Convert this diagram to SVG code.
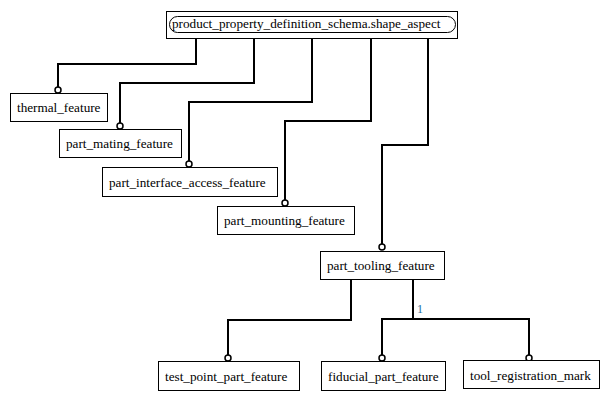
<svg xmlns="http://www.w3.org/2000/svg" width="608" height="400" viewBox="0 0 608 400">
<style>
.box{fill:#fff;stroke:#000;stroke-width:1}
.t{font-family:'Liberation Serif','DejaVu Serif',serif;font-size:13.2px;fill:#000}
.c{fill:none;stroke:#000;stroke-width:2}
.o{fill:#fff;stroke:#000;stroke-width:1.5}
.lbl{font-family:'Liberation Serif','DejaVu Serif',serif;font-size:12px;fill:#1a6e9e}
</style>
<rect width="608" height="400" fill="#fff"/>
<g id="connectors">
<path class="c" d="M196,38 V64 H58 V90"/>
<path class="c" d="M254,38 V83 H120 V126"/>
<path class="c" d="M312,38 V102 H189 V164"/>
<path class="c" d="M371,38 V121 H285 V203"/>
<path class="c" d="M428,38 V145 H382 V247"/>
<path class="c" d="M351,279 V320 H228 V358"/>
<path class="c" d="M413,279 V319"/>
<path class="c" d="M382,358 V319 H529 V358"/>
<circle class="o" cx="58" cy="90" r="3"/>
<circle class="o" cx="120" cy="126" r="3"/>
<circle class="o" cx="189" cy="164" r="3"/>
<circle class="o" cx="285" cy="203" r="3"/>
<circle class="o" cx="382" cy="247" r="3"/>
<circle class="o" cx="228" cy="358" r="3"/>
<circle class="o" cx="382" cy="358" r="3"/>
<circle class="o" cx="529" cy="358" r="3"/>
<text class="lbl" x="417" y="313">1</text>
</g>
<g id="shape_aspect">
<rect class="box" x="166.5" y="11.5" width="291" height="27"/>
<rect class="box" x="169.5" y="16.5" width="286" height="16" rx="8" ry="8"/>
<text class="t" x="172" y="28">product_property_definition_schema.shape_aspect</text>
</g>
<g id="thermal_feature">
<rect class="box" x="10.5" y="93.5" width="97" height="28"/>
<text class="t" x="17" y="112">thermal_feature</text>
</g>
<g id="part_mating_feature">
<rect class="box" x="59.5" y="129.5" width="122" height="28"/>
<text class="t" x="66" y="148">part_mating_feature</text>
</g>
<g id="part_interface_access_feature">
<rect class="box" x="102.5" y="167.5" width="175" height="29"/>
<text class="t" x="109" y="187">part_interface_access_feature</text>
</g>
<g id="part_mounting_feature">
<rect class="box" x="217.5" y="206.5" width="137" height="28"/>
<text class="t" x="224" y="225">part_mounting_feature</text>
</g>
<g id="part_tooling_feature">
<rect class="box" x="320.5" y="251.5" width="124" height="28"/>
<text class="t" x="327" y="270">part_tooling_feature</text>
</g>
<g id="test_point_part_feature">
<rect class="box" x="158.5" y="361.5" width="141" height="29"/>
<text class="t" x="165" y="381">test_point_part_feature</text>
</g>
<g id="fiducial_part_feature">
<rect class="box" x="321.5" y="361.5" width="124" height="29"/>
<text class="t" x="328" y="381">fiducial_part_feature</text>
</g>
<g id="tool_registration_mark">
<rect class="box" x="463.5" y="360.5" width="136" height="28"/>
<text class="t" x="470" y="380">tool_registration_mark</text>
</g>
</svg>
